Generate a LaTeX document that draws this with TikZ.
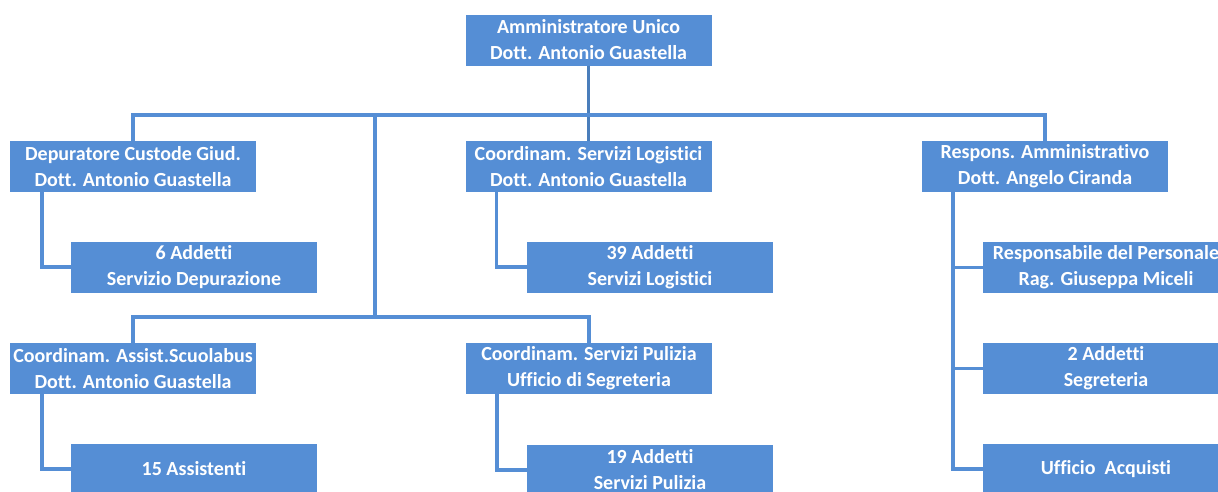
\documentclass[tikz,border=0pt]{standalone}
\usepackage{fontspec}
\setmainfont{Carlito}[Ligatures = {NoCommon, NoContextual}, RawFeature = {-liga;-clig;-calt;-dlig}]
\usepackage{tikz}
\definecolor{boxblue}{RGB}{85,142,213}
\definecolor{lineblue}{RGB}{74,126,187}

\begin{document}
\begin{tikzpicture}
[x = 1pt, y = -1pt]
\tikzset{
	box node/.style = {rectangle, fill = boxblue, text = white, minimum width = 246pt, minimum height = 51pt, inner sep = 0, align = center, font = \fontsize{20}{26}\selectfont\bfseries},
	link/.style = {draw = boxblue, line width = 3.5pt},
}
\useasboundingbox (0,0) rectangle (1218,491);
\clip (0,0) rectangle (1218,491);

\coordinate (bus1) at (375,115);
\coordinate (bus2) at (375,317);

\node(0)[box node] at (588.5,40) {Amministratore Unico\\Dott. Antonio Guastella};
\node(1)[box node] at (133,166.5) {Depuratore Custode Giud.\\Dott. Antonio Guastella};
\node(2)[box node] at (588.5,166.5) {Coordinam. Servizi Logistici\\Dott. Antonio Guastella};
\node(3)[box node] at (1045,166.5) {Respons. Amministrativo\\Dott. Angelo Ciranda};
\node(4)[box node] at (133,368.5) {Coordinam. Assist.Scuolabus\\Dott. Antonio Guastella};
\node(5)[box node] at (589,368.5) {Coordinam. Servizi Pulizia\\Ufficio di Segreteria};

\node(1-1)[box node] at (194,267) {6 Addetti\\Servizio Depurazione};
\node(2-1)[box node] at (650,267) {39 Addetti\\Servizi Logistici};
\node(3-1)[box node] at (1106,267.5) {Responsabile del Personale\\Rag. Giuseppa Miceli};
\node(3-2)[box node] at (1106,368.5) {2 Addetti\\Segreteria};
\node(3-3)[box node] at (1106,469) {Ufficio\ \ Acquisti};
\node(4-1)[box node] at (194,469) {15 Assistenti};
\node(5-1)[box node] at (650,470) {19 Addetti\\Servizi Pulizia};

\draw [link, draw = lineblue] (0.south) -- (2.north);
\draw [link] (1.north) -- (1.north |- bus1) -- (3.north |- bus1) -- (3.north);
\draw [link] (bus1) -- (bus2);
\draw [link] (4.north) -- (4.north |- bus2) -- (5.north |- bus2) -- (5.north);

\draw [link] ([xshift = 32pt]1.south west) |- (1-1.west);
\draw [link] ([xshift = 31pt]2.south west) |- (2-1.west);
\draw [link] ([xshift = 32pt]4.south west) |- (4-1.west);
\draw [link] ([xshift = 31pt]5.south west) |- (5-1.west);
\draw [link] ([xshift = 31pt]3.south west) |- (3-3.west);
\draw [link] ([xshift = 31pt]3.south west |- 3-1.west) -- (3-1.west);
\draw [link] ([xshift = 31pt]3.south west |- 3-2.west) -- (3-2.west);

\end{tikzpicture}
\end{document}
